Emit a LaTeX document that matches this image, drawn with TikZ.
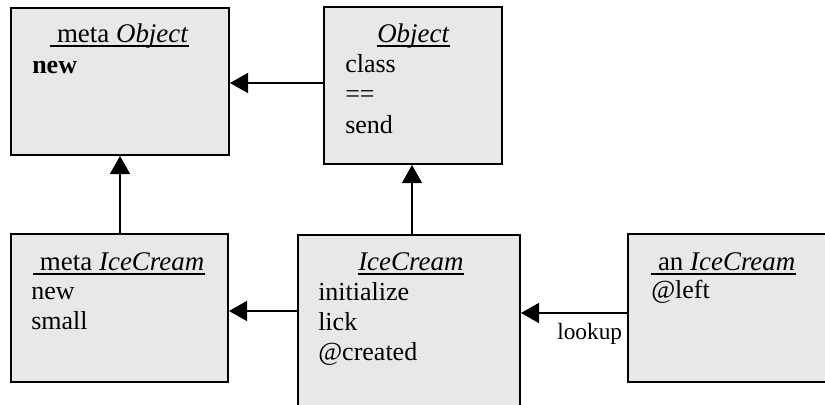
\documentclass[tikz,border=0pt]{standalone}
\usepackage{fontspec}
\setmainfont{Liberation Serif}
\usetikzlibrary{arrows.meta}
\definecolor{boxgray}{RGB}{232,232,232}
\begin{document}
\begin{tikzpicture}[x=0.75pt,y=-0.75pt,
  box/.style={draw=black, line width=1.5pt, fill=boxgray, rectangle, inner sep=0pt},
  txt/.style={anchor=base west, inner sep=0pt, font=\fontsize{19.5pt}{22.5pt}\selectfont},
  ttl/.style={anchor=base west, inner sep=0pt, font=\fontsize{20.2pt}{23pt}\selectfont},
  smalltxt/.style={anchor=base west, inner sep=0pt, font=\fontsize{17.5pt}{21pt}\selectfont},
  ul/.style={line width=1.1pt},
  arr/.style={line width=1.1pt, -{Triangle[length=13.5pt,width=15pt]}}]
\useasboundingbox (0,0) rectangle (825,404);
\clip (0,0) rectangle (825,404);
% boxes
\node[box, minimum width=218*0.75pt, minimum height=147*0.75pt] (mobj) at (120,81.5) {};
\node[box, minimum width=178*0.75pt, minimum height=157*0.75pt] (obj) at (413,85.5) {};
\node[box, minimum width=217*0.75pt, minimum height=148*0.75pt] (mice) at (119.5,308) {};
\node[box, minimum width=222*0.75pt, minimum height=225*0.75pt] (ice) at (409,347.5) {};
\node[box, minimum width=232*0.75pt, minimum height=148*0.75pt] (anice) at (744,308) {};
% texts box 1
\node[ttl] (t1) at (50,42) {\ meta \textit{Object}};
\draw[ul] ([yshift=-3pt]t1.base west) -- ([yshift=-3pt]t1.base east);
\node[txt] (t1a) at (32,73) {\textbf{new}};
% texts box 2
\node[ttl] (t2) at (377,42) {\textit{Object}};
\draw[ul] ([yshift=-3pt]t2.base west) -- ([yshift=-3pt]t2.base east);
\node[txt] (t2a) at (345,72) {class};
\node[txt] (t2b) at (345,102) {==};
\node[txt] (t2c) at (345,133) {send};
% texts box 3
\node[ttl] (t3) at (33,270) {\ meta \textit{IceCream}};
\draw[ul] ([yshift=-3pt]t3.base west) -- ([yshift=-3pt]t3.base east);
\node[txt] (t3a) at (31,299) {new};
\node[txt] (t3b) at (31,329) {small};
% texts box 4
\node[ttl] (t4) at (358,270) {\textit{IceCream}};
\draw[ul] ([yshift=-3pt]t4.base west) -- ([yshift=-3pt]t4.base east);
\node[txt] (t4a) at (318,300) {initialize};
\node[txt] (t4b) at (318,330) {lick};
\node[txt] (t4c) at (318,360) {@created};
% texts box 5
\node[ttl] (t5) at (651,270) {\ an \textit{IceCream}};
\draw[ul] ([yshift=-3pt]t5.base west) -- ([yshift=-3pt]t5.base east);
\node[txt] (t5a) at (651,298) {@left};
% connectors
\draw[arr] (obj.west |- 0,83) -- (mobj.east |- 0,83);
\draw[arr] (mice.north -| 120,0) -- (mobj.south -| 120,0);
\draw[arr] (ice.north -| 412,0) -- (obj.south -| 412,0);
\draw[arr] (ice.west |- 0,311) -- (mice.east |- 0,311);
\draw[arr] (anice.west |- 0,313) -- (ice.east |- 0,313);
\node[smalltxt] (lk) at (557,339) {lookup};
\end{tikzpicture}
\end{document}
